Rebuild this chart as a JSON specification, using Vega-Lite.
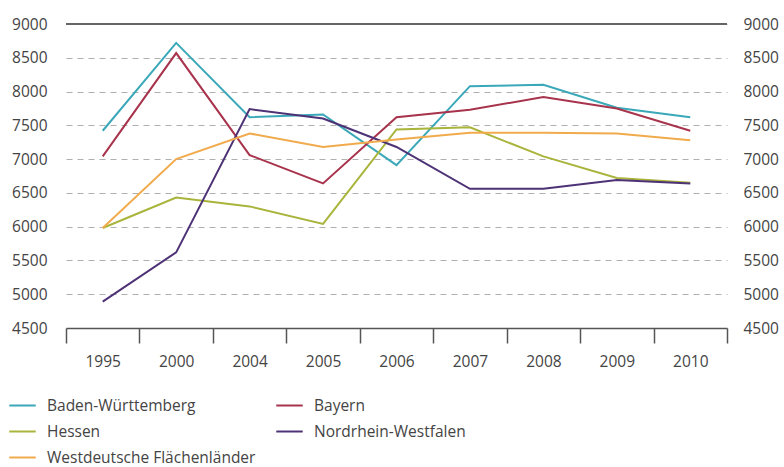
{
  "$schema": "https://vega.github.io/schema/vega-lite/v6.json",
  "autosize": "none",
  "width": 661,
  "height": 304,
  "padding": {"left": 66, "top": 24, "right": 57, "bottom": 139},
  "background": "white",
  "config": {
    "font": "Open Sans",
    "view": {"stroke": null}
  },
  "data": {
    "values": [
      {"jahr": "1995", "land": "Baden-Württemberg", "wert": 7420},
      {"jahr": "2000", "land": "Baden-Württemberg", "wert": 8720},
      {"jahr": "2004", "land": "Baden-Württemberg", "wert": 7620},
      {"jahr": "2005", "land": "Baden-Württemberg", "wert": 7660},
      {"jahr": "2006", "land": "Baden-Württemberg", "wert": 6910},
      {"jahr": "2007", "land": "Baden-Württemberg", "wert": 8080},
      {"jahr": "2008", "land": "Baden-Württemberg", "wert": 8100},
      {"jahr": "2009", "land": "Baden-Württemberg", "wert": 7760},
      {"jahr": "2010", "land": "Baden-Württemberg", "wert": 7620},
      {"jahr": "1995", "land": "Bayern", "wert": 7040},
      {"jahr": "2000", "land": "Bayern", "wert": 8570},
      {"jahr": "2004", "land": "Bayern", "wert": 7060},
      {"jahr": "2005", "land": "Bayern", "wert": 6640},
      {"jahr": "2006", "land": "Bayern", "wert": 7620},
      {"jahr": "2007", "land": "Bayern", "wert": 7730},
      {"jahr": "2008", "land": "Bayern", "wert": 7920},
      {"jahr": "2009", "land": "Bayern", "wert": 7750},
      {"jahr": "2010", "land": "Bayern", "wert": 7420},
      {"jahr": "1995", "land": "Hessen", "wert": 5980},
      {"jahr": "2000", "land": "Hessen", "wert": 6430},
      {"jahr": "2004", "land": "Hessen", "wert": 6300},
      {"jahr": "2005", "land": "Hessen", "wert": 6040},
      {"jahr": "2006", "land": "Hessen", "wert": 7440},
      {"jahr": "2007", "land": "Hessen", "wert": 7470},
      {"jahr": "2008", "land": "Hessen", "wert": 7040},
      {"jahr": "2009", "land": "Hessen", "wert": 6720},
      {"jahr": "2010", "land": "Hessen", "wert": 6650},
      {"jahr": "1995", "land": "Nordrhein-Westfalen", "wert": 4890},
      {"jahr": "2000", "land": "Nordrhein-Westfalen", "wert": 5620},
      {"jahr": "2004", "land": "Nordrhein-Westfalen", "wert": 7740},
      {"jahr": "2005", "land": "Nordrhein-Westfalen", "wert": 7600},
      {"jahr": "2006", "land": "Nordrhein-Westfalen", "wert": 7180},
      {"jahr": "2007", "land": "Nordrhein-Westfalen", "wert": 6560},
      {"jahr": "2008", "land": "Nordrhein-Westfalen", "wert": 6560},
      {"jahr": "2009", "land": "Nordrhein-Westfalen", "wert": 6690},
      {"jahr": "2010", "land": "Nordrhein-Westfalen", "wert": 6640},
      {"jahr": "1995", "land": "Westdeutsche Flächenländer", "wert": 5980},
      {"jahr": "2000", "land": "Westdeutsche Flächenländer", "wert": 7000},
      {"jahr": "2004", "land": "Westdeutsche Flächenländer", "wert": 7380},
      {"jahr": "2005", "land": "Westdeutsche Flächenländer", "wert": 7180},
      {"jahr": "2006", "land": "Westdeutsche Flächenländer", "wert": 7290},
      {"jahr": "2007", "land": "Westdeutsche Flächenländer", "wert": 7390},
      {"jahr": "2008", "land": "Westdeutsche Flächenländer", "wert": 7390},
      {"jahr": "2009", "land": "Westdeutsche Flächenländer", "wert": 7380},
      {"jahr": "2010", "land": "Westdeutsche Flächenländer", "wert": 7280}
    ]
  },
  "layer": [
    {
      "mark": {"type": "line", "strokeWidth": 2},
      "encoding": {
        "x": {
          "field": "jahr", "type": "ordinal", "bandPosition": 0.5,
          "scale": {"type": "band", "paddingInner": 0, "paddingOuter": 0},
          "axis": {
            "title": null, "labelAngle": 0, "tickBand": "extent",
            "domainColor": "#555", "domainWidth": 1.5,
            "tickColor": "#555", "tickWidth": 1.5, "tickSize": 15,
            "labelPadding": 11, "labelFontSize": 15.5, "labelColor": "#444"
          }
        },
        "y": {
          "field": "wert", "type": "quantitative",
          "scale": {"domain": [4500, 9000], "nice": false, "zero": false},
          "axis": {
            "title": null, "orient": "left", "format": "d",
            "values": [4500, 5000, 5500, 6000, 6500, 7000, 7500, 8000, 8500, 9000],
            "domain": false, "ticks": false, "labelPadding": 19,
            "labelFontSize": 15.5, "labelColor": "#444",
            "grid": true, "gridColor": "#b0b0b0", "gridDash": [6, 5], "gridWidth": 1.2
          }
        },
        "color": {
          "field": "land", "type": "nominal",
          "scale": {
            "domain": ["Baden-Württemberg", "Bayern", "Hessen", "Nordrhein-Westfalen", "Westdeutsche Flächenländer"],
            "range": ["#3aa8b8", "#a8334c", "#a8b43a", "#4e3276", "#f1aa4c"]
          },
          "legend": {
            "title": null, "orient": "none", "legendX": -58, "legendY": 367,
            "direction": "horizontal", "columns": 2, "columnPadding": 16, "rowPadding": 3,
            "symbolType": "stroke", "symbolSize": 700, "symbolStrokeWidth": 2,
            "labelFontSize": 15.5, "labelColor": "#444", "labelOffset": 10, "labelLimit": 400
          }
        }
      }
    },
    {
      "mark": {"type": "rule", "color": "#666", "strokeWidth": 1.5},
      "encoding": {
        "y": {
          "datum": 9000, "type": "quantitative",
          "axis": {
            "title": null, "orient": "right", "format": "d",
            "values": [4500, 5000, 5500, 6000, 6500, 7000, 7500, 8000, 8500, 9000],
            "domain": false, "ticks": false, "labelPadding": 16, "grid": false,
            "labelFontSize": 15.5, "labelColor": "#444"
          }
        }
      }
    }
  ],
  "resolve": {"axis": {"y": "independent"}}
}
